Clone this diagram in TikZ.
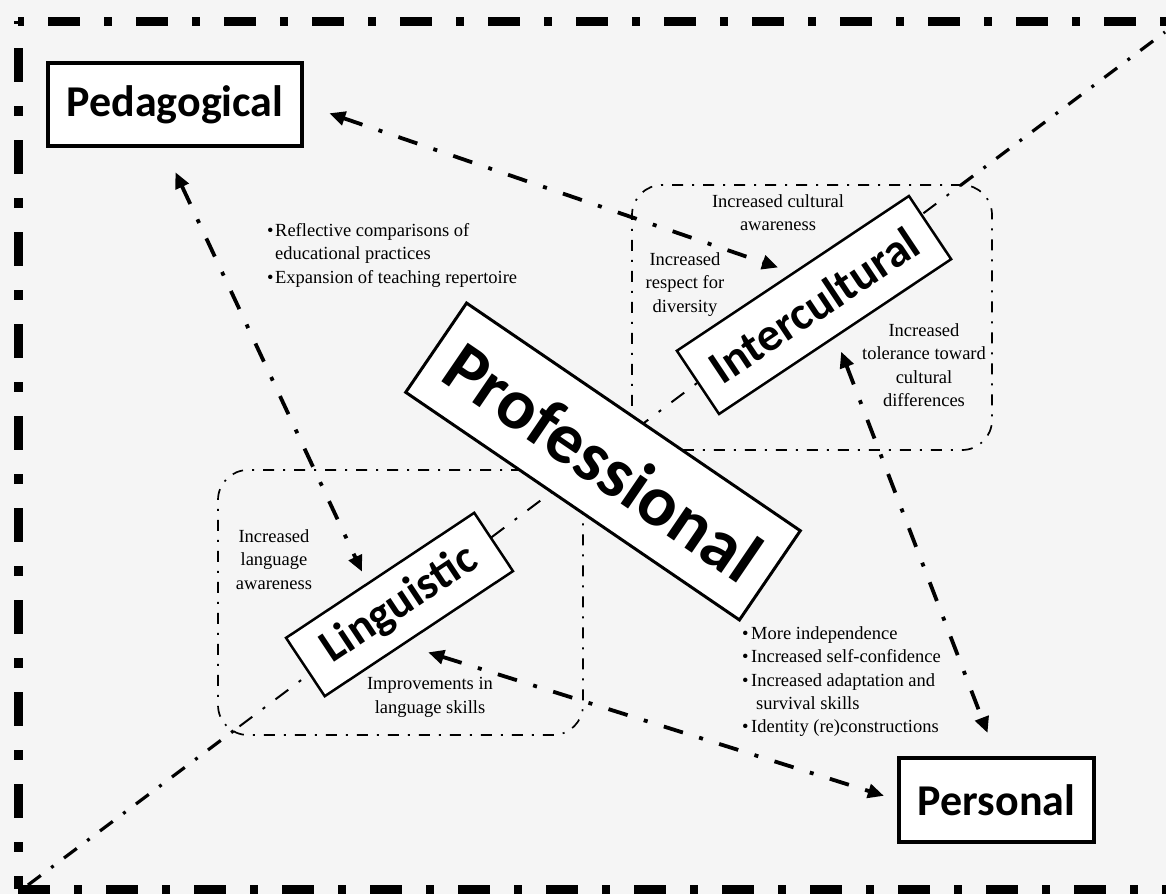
\documentclass[tikz,border=0pt]{standalone}
\usepackage{fontspec}
\setmainfont{Liberation Serif}
\newfontfamily\boxfont{Carlito}
\usetikzlibrary{arrows.meta,calc}

\newcommand{\notefont}{\fontsize{18.5}{23.3}\selectfont}
\newcommand{\bul}[1][8pt]{\makebox[#1][l]{•}}

\tikzset{every node/.style={inner sep=0pt}}
\tikzstyle{facet}=[draw, fill=white, line width=3.5pt, font=\boxfont\bfseries\fontsize{44}{50}\selectfont]
\tikzstyle{tilted}=[draw, fill=white, line width=2.5pt]
\tikzstyle{region}=[draw, rounded corners=30pt, line width=1.7pt, dash pattern=on 11pt off 9pt on 2pt off 9pt]
\tikzstyle{link}=[line width=3.8pt, dash pattern=on 20pt off 17pt on 4pt off 17pt, arrows={Triangle[length=16pt,width=14pt]-Triangle[length=16pt,width=14pt]}]
\tikzstyle{axisline}=[line width=3.2pt, dash pattern=on 16pt off 13pt on 3pt off 13pt]
\tikzstyle{frame}=[line width=9pt]
\tikzstyle{note}=[font=\notefont, align=center, anchor=north]

\begin{document}
\begin{tikzpicture}[x=1pt, y=-1pt]
\useasboundingbox (0,0) rectangle (1166,894);
\clip (0,0) rectangle (1166,894);
\fill[black!4] (0,0) rectangle (1166,894);
\draw[frame, dash pattern=on 34pt off 24pt on 10pt off 24pt, dash phase=65pt] (18,21) -- (18,889);
\draw[frame, dash pattern=on 32pt off 24pt on 8pt off 24pt, dash phase=58pt] (18,21) -- (1200,21);
\draw[frame, dash pattern=on 32pt off 24pt on 8pt off 24pt] (18,889) -- (1200,889);

\coordinate (lowend) at (28,885);
\coordinate (highend) at (1165,32);
\draw[axisline] (lowend) -- ($(lowend)!.186!(highend)$) coordinate (lowcut);
\draw[axisline, line width=2pt] (lowcut) -- ($(lowend)!.82!(highend)$) coordinate (highcut);
\draw[axisline] (highcut) -- (highend);

\node[region, minimum width=360pt, minimum height=265pt] (interzone) at (812,317.5) {};
\node[region, minimum width=365pt, minimum height=265pt] (lingzone) at (400.5,602.5) {};

\node[tilted, rotate=33.7, minimum width=279pt, minimum height=76pt, font=\boxfont\bfseries\fontsize{47}{50}\selectfont] (inter) at (814,305) {Intercultural};
\node[tilted, rotate=33.6, minimum width=226pt, minimum height=70pt, font=\boxfont\bfseries\fontsize{46}{50}\selectfont] (ling) at (399.5,604.5) {Linguistic};
\node[tilted, line width=3pt, rotate=-34.3, minimum width=404pt, minimum height=108pt, font=\boxfont\bfseries\fontsize{72}{80}\selectfont] (prof) at (603,461.5) {Professional};
\node[facet, minimum width=254pt, minimum height=83pt] (ped) at (175,104.5) {Pedagogical};
\node[facet, minimum width=195pt, minimum height=84pt] (pers) at (996.5,800) {Personal};

\draw[link, shorten <=27pt, shorten >=15pt] (ped.east) -- (inter.north);
\draw[link, shorten <=27pt, shorten >=12pt] ([xshift=-11pt]ped.south) -- ($(ling.north)!.13!(ling.north west)$);
\draw[link, shorten <=25pt, shorten >=14pt] ($(ling.south)!.16!(ling.south west)$) -- (pers.west);
\draw[link, shorten <=15pt, shorten >=25pt] (inter.south) -- (pers.north);

\node[note] (cultaware) at (778,194.4) {Increased cultural\\awareness};
\node[note] (respect) at (685,252.4) {Increased\\respect for\\diversity};
\node[note] (tolerance) at (924,323.4) {Increased\\tolerance toward\\cultural\\differences};
\node[note] (langaware) at (274,529.4) {Increased\\language\\awareness};
\node[note] (langskill) at (430,677.4) {Improvements in\\language skills};
\node[note, align=left, anchor=north west] (pedlist) at (267,223.4) {\bul Reflective comparisons of\\\hspace*{8pt}educational practices\\\bul Expansion of teaching repertoire};
\node[note, align=left, anchor=north west] (perslist) at (742,626.4) {\bul[9pt]More independence\\\bul[9pt]Increased self-confidence\\\bul[9pt]Increased adaptation and\\\hspace*{14pt}survival skills\\\bul[9pt]Identity (re)constructions};
\end{tikzpicture}
\end{document}
